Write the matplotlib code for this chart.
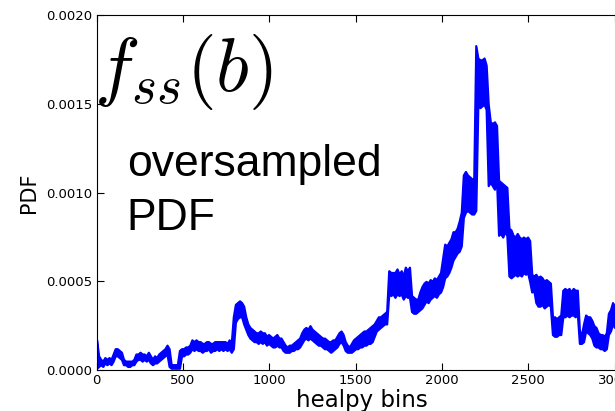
import matplotlib
matplotlib.use("Agg")
import matplotlib.pyplot as plt
import numpy as np
from matplotlib.ticker import FormatStrFormatter

# %%
# noisy PDF drawn as a band: low / high edge (units of 1e-4) every 12 healpy bins, 0 .. 3072
bin_step = 12
pdf_lo_e4 = [
    0.1, 0.2, 0.3, 0.2, 0.4, 0.3, 0.4, 0.3, 0.5, 0.8,
    0.8, 0.7, 0.6, 0.3, 0.3, 0.2, 0.2, 0.3, 0.3, 0.5,
    0.6, 0.6, 0.5, 0.6, 0.5, 0.6, 0.4, 0.3, 0.4, 0.4,
    0.5, 0.6, 0.7, 0.8, 0.9, 0.2, 0.1, 0.1, 0.1, 0.1,
    0.1, 0.8, 0.8, 0.9, 0.9, 1.0, 1.2, 1.1, 1.2, 1.1,
    1.1, 1.0, 1.1, 1.1, 1.2, 1.0, 1.1, 1.1, 1.2, 1.1,
    1.2, 1.1, 1.2, 1.1, 1.2, 1.0, 1.2, 2.7, 2.9, 3.0,
    3.0, 2.6, 2.3, 2.0, 1.8, 1.7, 1.6, 1.6, 1.5, 1.6,
    1.5, 1.6, 1.4, 1.5, 1.4, 1.3, 1.3, 1.4, 1.3, 1.3,
    1.1, 1.0, 1.0, 1.0, 1.1, 1.1, 1.2, 1.2, 1.3, 1.5,
    1.7, 1.8, 1.7, 1.8, 1.7, 1.6, 1.5, 1.4, 1.4, 1.3,
    1.2, 1.2, 1.1, 1.0, 1.1, 1.2, 1.3, 1.5, 1.6, 1.4,
    1.1, 1.0, 1.0, 1.0, 1.1, 1.2, 1.2, 1.3, 1.3, 1.4,
    1.4, 1.5, 1.5, 1.6, 1.9, 2.2, 2.3, 2.4, 2.5, 2.6,
    2.6, 4.3, 4.2, 4.3, 4.1, 4.3, 4.2, 4.3, 4.0, 4.2,
    4.1, 4.1, 3.3, 3.2, 3.2, 3.3, 3.4, 3.5, 3.7, 3.9,
    3.8, 4.0, 4.1, 4.2, 4.1, 4.3, 4.4, 4.7, 5.2, 5.3,
    5.5, 5.8, 6.2, 6.4, 6.6, 6.7, 7.0, 8.6, 8.9, 9.0,
    8.9, 8.8, 8.8, 9.0, 15.0, 14.8, 14.9, 15.0, 14.7, 10.4,
    10.6, 10.4, 10.2, 10.8, 7.6, 7.7, 7.5, 7.8, 7.6, 5.3,
    5.2, 5.3, 5.4, 5.3, 5.4, 5.3, 5.5, 5.4, 5.5, 5.0,
    4.4, 4.5, 3.8, 3.6, 3.6, 3.7, 3.5, 3.6, 3.7, 3.6,
    2.0, 1.9, 1.9, 2.0, 2.0, 3.0, 3.0, 3.1, 3.0, 3.1,
    3.1, 3.0, 3.2, 1.5, 1.5, 1.6, 2.2, 2.1, 2.0, 1.8,
    1.4, 1.3, 1.3, 1.2, 1.2, 1.1, 1.2, 2.0, 2.2, 2.6,
    2.4, 2.3, 2.2, 2.3, 2.4, 2.3, 2.4,
]
pdf_hi_e4 = [
    1.7, 0.8, 0.6, 0.5, 0.7, 0.6, 0.7, 0.6, 0.9, 1.2,
    1.2, 1.1, 1.0, 0.6, 0.5, 0.5, 0.5, 0.5, 0.6, 0.9,
    0.9, 1.0, 0.9, 0.9, 0.8, 1.0, 0.8, 0.6, 0.8, 0.7,
    0.9, 1.0, 1.1, 1.2, 1.4, 1.2, 0.3, 0.3, 0.3, 0.3,
    1.1, 1.2, 1.2, 1.3, 1.3, 1.4, 1.7, 1.6, 1.7, 1.6,
    1.6, 1.5, 1.5, 1.6, 1.6, 1.5, 1.5, 1.6, 1.6, 1.6,
    1.6, 1.6, 1.6, 1.5, 1.7, 1.5, 3.0, 3.7, 3.8, 3.9,
    3.8, 3.6, 3.0, 2.6, 2.4, 2.3, 2.2, 2.1, 2.1, 2.2,
    2.1, 2.1, 1.9, 2.0, 1.9, 1.8, 1.9, 2.0, 1.8, 1.8,
    1.6, 1.4, 1.3, 1.4, 1.4, 1.5, 1.6, 1.7, 1.8, 2.1,
    2.3, 2.4, 2.3, 2.5, 2.3, 2.2, 2.1, 2.0, 1.9, 1.8,
    1.8, 1.7, 1.6, 1.6, 1.7, 1.7, 1.9, 2.1, 2.2, 2.0,
    1.6, 1.4, 1.3, 1.5, 1.7, 1.8, 1.9, 2.0, 2.1, 2.2,
    2.2, 2.3, 2.4, 2.5, 2.6, 2.8, 3.0, 3.0, 3.1, 3.2,
    3.3, 5.6, 5.5, 5.5, 5.5, 5.7, 5.4, 5.6, 5.3, 5.8,
    5.6, 5.8, 4.2, 4.1, 4.0, 4.0, 4.4, 4.7, 4.9, 5.0,
    4.9, 5.1, 5.0, 5.2, 5.1, 5.3, 5.5, 6.3, 7.1, 7.0,
    7.2, 7.4, 7.8, 7.8, 8.0, 8.4, 8.9, 11.0, 11.2, 11.0,
    10.9, 10.8, 10.6, 18.3, 17.6, 17.5, 17.5, 17.6, 17.2, 15.0,
    14.0, 13.9, 14.0, 13.8, 10.7, 10.6, 10.5, 10.4, 10.3, 8.0,
    7.9, 7.6, 7.5, 7.7, 7.5, 7.4, 7.5, 7.4, 7.5, 7.3,
    5.4, 5.3, 5.4, 5.2, 5.3, 5.2, 5.0, 5.1, 5.0, 4.9,
    3.0, 3.0, 2.9, 3.0, 3.1, 4.5, 4.6, 4.5, 4.6, 4.4,
    4.6, 4.5, 4.5, 2.2, 2.0, 2.6, 3.1, 3.0, 3.0, 2.8,
    2.5, 2.4, 2.1, 2.0, 2.0, 1.9, 2.1, 3.2, 3.4, 3.8,
    3.6, 3.4, 3.3, 3.5, 3.4, 3.5, 3.6,
]
xticks = [0, 500, 1000, 1500, 2000, 2500, 3000]
yticks = [0.0, 0.0005, 0.0010, 0.0015, 0.0020]

pdf_lo = np.array(pdf_lo_e4) * 1e-4
pdf_hi = np.array(pdf_hi_e4) * 1e-4
bins = np.arange(len(pdf_lo)) * bin_step

# %%
plt.rcParams["mathtext.fontset"] = "cm"
fig = plt.figure(figsize=(6.15, 4.11), dpi=100)
ax = fig.add_axes([0.157, 0.0998, 0.8626, 0.8625])
ax.fill_between(bins, pdf_lo, pdf_hi, facecolor="#0000ff",
                edgecolor="#0000ff", lw=1.6)

ax.set_xlim(0, 3072)
ax.set_ylim(0, 0.002)
ax.set_xticks(xticks)
ax.set_yticks(yticks)
ax.yaxis.set_major_formatter(FormatStrFormatter("%.4f"))
ax.tick_params(direction="in", top=True, right=True, length=5,
               labelsize=9.5, pad=3)
ax.set_xlabel("healpy bins", fontsize=16.5, labelpad=1)
ax.set_ylabel("PDF", fontsize=15, labelpad=5)

fig.text(0.153, 0.922, r"$f_{ss}(b)$", fontsize=55, va="top")
fig.text(0.206, 0.418, "oversampled\nPDF", fontsize=32,
         family="Liberation Sans", va="bottom", linespacing=1.4)

plt.savefig("out.png", dpi=100)
